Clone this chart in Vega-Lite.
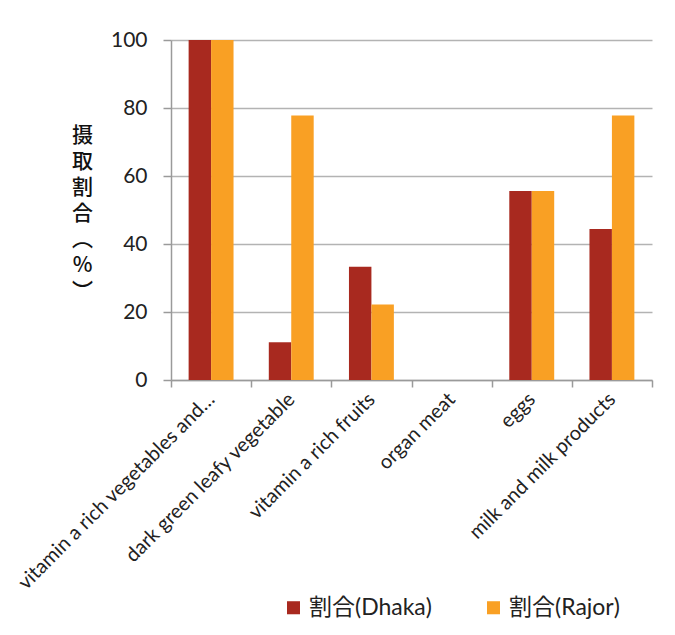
{
  "$schema": "https://vega.github.io/schema/vega-lite/v6.json",
  "autosize": "none",
  "width": 481,
  "height": 340,
  "padding": {"left": 171, "top": 40, "right": 23, "bottom": 255},
  "background": "white",
  "data": {
    "values": [
      {"item": "vitamin a rich vegetables and…", "region": "割合(Dhaka)", "pct": 100},
      {"item": "vitamin a rich vegetables and…", "region": "割合(Rajor)", "pct": 100},
      {"item": "dark green leafy vegetable", "region": "割合(Dhaka)", "pct": 11.1},
      {"item": "dark green leafy vegetable", "region": "割合(Rajor)", "pct": 77.8},
      {"item": "vitamin a rich fruits", "region": "割合(Dhaka)", "pct": 33.3},
      {"item": "vitamin a rich fruits", "region": "割合(Rajor)", "pct": 22.2},
      {"item": "organ meat", "region": "割合(Dhaka)", "pct": 0},
      {"item": "organ meat", "region": "割合(Rajor)", "pct": 0},
      {"item": "eggs", "region": "割合(Dhaka)", "pct": 55.6},
      {"item": "eggs", "region": "割合(Rajor)", "pct": 55.6},
      {"item": "milk and milk products", "region": "割合(Dhaka)", "pct": 44.4},
      {"item": "milk and milk products", "region": "割合(Rajor)", "pct": 77.8}
    ]
  },
  "mark": {"type": "bar"},
  "encoding": {
    "x": {
      "field": "item",
      "type": "nominal",
      "sort": null,
      "scale": {"paddingInner": 0, "paddingOuter": 0},
      "axis": {
        "title": null,
        "labelAngle": -45,
        "labelAlign": "right",
        "labelBaseline": "middle",
        "labelFontSize": 20,
        "labelFont": "Lato",
        "labelColor": "#222222",
        "labelPadding": 9,
        "labelLimit": 400,
        "tickBand": "extent",
        "tickSize": 7,
        "tickColor": "#9a9a9a",
        "tickWidth": 1.5,
        "domainColor": "#9a9a9a",
        "domainWidth": 1.5,
        "grid": false
      }
    },
    "xOffset": {
      "field": "region",
      "type": "nominal",
      "scale": {"paddingInner": 0, "paddingOuter": 0.785}
    },
    "y": {
      "field": "pct",
      "type": "quantitative",
      "scale": {"domain": [0, 100]},
      "axis": {
        "title": ["摄", "取", "割", "合", "︵", "%", "︶"],
        "titleAngle": 0,
        "titleFont": "Noto Sans CJK JP",
        "titleFontSize": 21,
        "titleFontWeight": 500,
        "titleColor": "#111111",
        "titleLineHeight": 26,
        "titleAlign": "center",
        "titleBaseline": "middle",
        "titleX": -89,
        "titleY": 95,
        "values": [0, 20, 40, 60, 80, 100],
        "labelFont": "Lato",
        "labelFontSize": 21,
        "labelColor": "#222222",
        "labelPadding": 16,
        "tickSize": 8,
        "tickColor": "#9a9a9a",
        "tickWidth": 1.5,
        "domainColor": "#9a9a9a",
        "domainWidth": 1.5,
        "gridColor": "#b3b3b3",
        "gridWidth": 1.5
      }
    },
    "color": {
      "field": "region",
      "type": "nominal",
      "scale": {"range": ["#a8291f", "#f9a024"]},
      "legend": {
        "title": null,
        "orient": "none",
        "direction": "horizontal",
        "legendX": 111,
        "legendY": 556,
        "symbolType": "square",
        "symbolSize": 170,
        "symbolStrokeWidth": 0,
        "labelFont": "Lato, Noto Sans CJK JP",
        "labelFontSize": 23,
        "labelColor": "#222222",
        "columnPadding": 50
      }
    }
  },
  "config": {
    "view": {"stroke": null}
  }
}
